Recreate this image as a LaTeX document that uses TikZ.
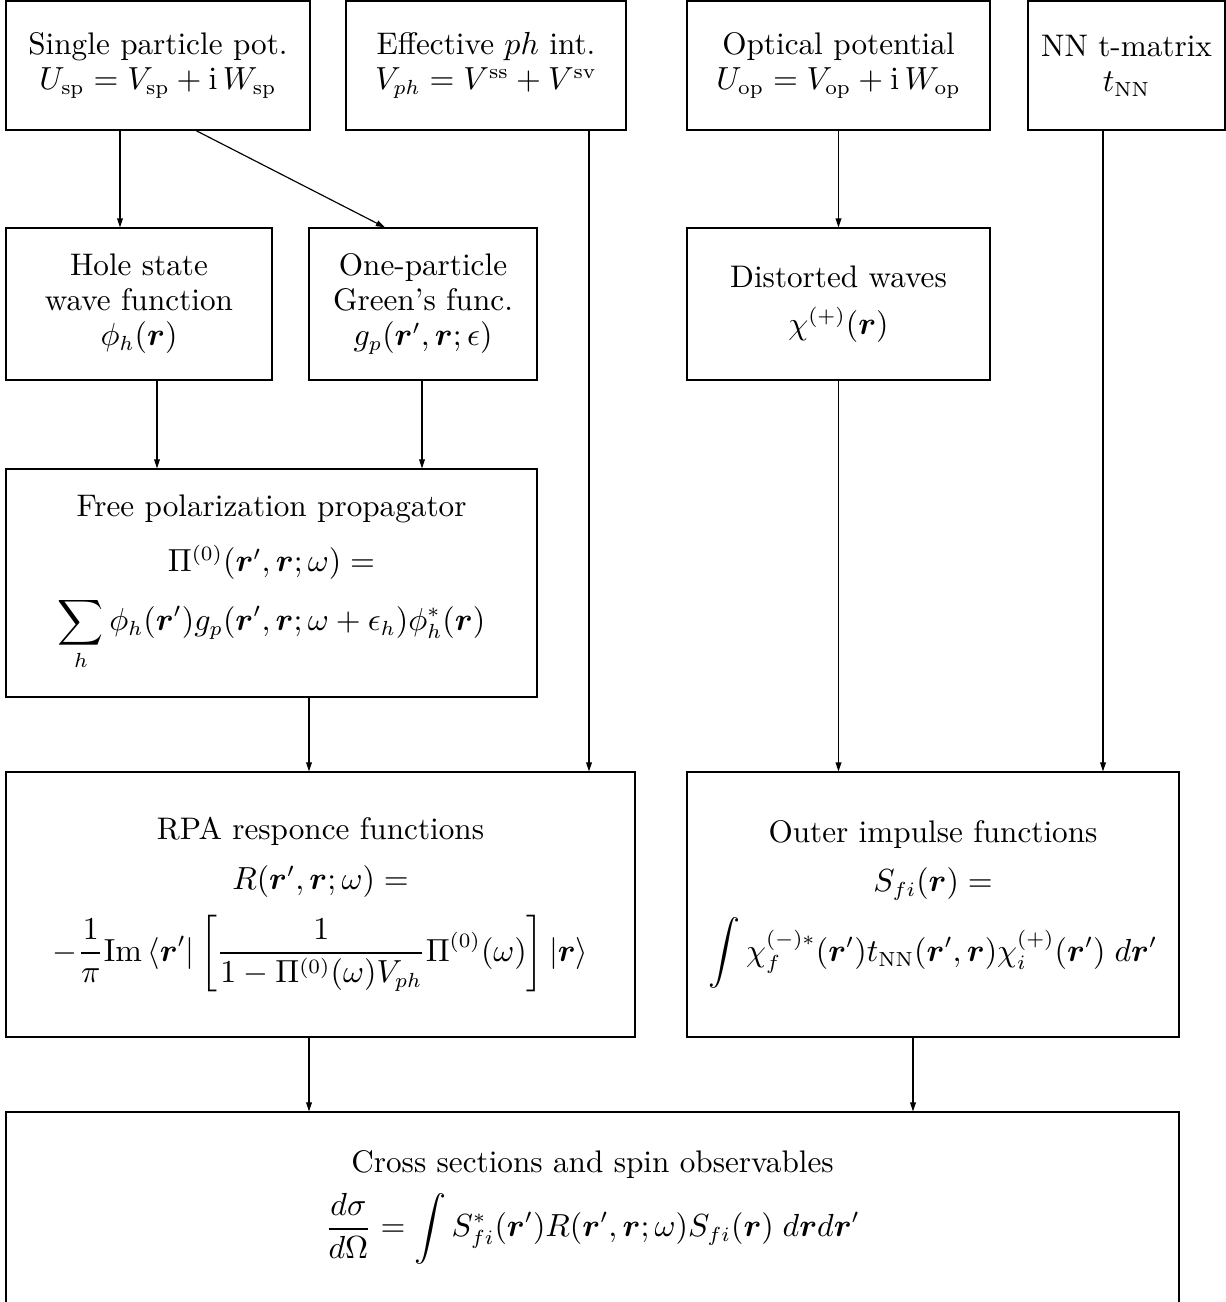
\documentclass[tikz,border=0pt]{standalone}
\usepackage{amsmath,bm}
\usetikzlibrary{arrows.meta}
\newcommand{\pxl}{0.01205cm}
\tikzset{
  box/.style 2 args={draw, line width=0.4pt, align=center, inner sep=0pt,
    font=\fontsize{10.7}{12}\selectfont,
    minimum width=#1*\pxl, minimum height=#2*\pxl},
  arr/.style={line width=0.4pt, -{Triangle[length=1.1mm,width=0.7mm]}}
}

\begin{document}
\begin{tikzpicture}[x=\pxl, y=-\pxl]
    \useasboundingbox (0,0) rectangle (1226,1302);
    \node[box={304}{129}] (sp) at (158,65.5) {Single particle pot.\\ $U_{\mathrm{sp}} = V_{\mathrm{sp}} + \mathrm{i}\,W_{\mathrm{sp}}$};
    \node[box={280}{129}] (eff) at (486,65.5) {Effective $ph$ int.\\ $V_{ph} = V^{\mathrm{ss}} + V^{\mathrm{sv}}$};
    \node[box={303}{129}] (op) at (838.5,65.5) {Optical potential\\ $U_{\mathrm{op}} = V_{\mathrm{op}} + \mathrm{i}\,W_{\mathrm{op}}$};
    \node[box={197}{129}] (nn) at (1126.5,65.5) {NN t-matrix\\ $t_{\mathrm{NN}}$};
    \node[box={266}{152}] (hole) at (139,304) {Hole state\\ wave function\\ $\phi_h(\bm{r})$};
    \node[box={228}{152}] (green) at (423,304) {One-particle\\ Green's func.\\ $g_p(\bm{r}',\bm{r};\epsilon)$};
    \node[box={303}{152}] (dist) at (838.5,304) {Distorted waves\\[4pt] $\chi^{(+)}(\bm{r})$};
    \node[box={531}{228}] (free) at (271.5,583) {Free polarization propagator\\[7pt] $\Pi^{(0)}(\bm{r}',\bm{r};\omega) =$\\[5pt] $\displaystyle\sum_h \phi_h(\bm{r}')g_p(\bm{r}',\bm{r};\omega+\epsilon_h)\phi_h^*(\bm{r})$};
    \node[box={629}{265}] (rpa) at (320.5,904.5) {RPA responce functions\\[5pt] $R(\bm{r}',\bm{r};\omega) =$\\[5pt] $\displaystyle -\frac{1}{\pi}\mathrm{Im}\,\langle\bm{r}'|\left[\frac{1}{1-\Pi^{(0)}(\omega)V_{ph}}\Pi^{(0)}(\omega)\right]|\bm{r}\rangle$};
    \node[box={492}{265}] (outer) at (933,904.5) {Outer impulse functions\\[5pt] $S_{fi}(\bm{r}) =$\\[5pt] $\displaystyle\int\chi_f^{(-)*}(\bm{r}')t_{\mathrm{NN}}(\bm{r}',\bm{r})\chi_i^{(+)}(\bm{r}')\;d\bm{r}'$};
    \node[box={1173}{191}] (cross) at (592.5,1207.5) {Cross sections and spin observables\\[4pt] $\displaystyle\frac{d\sigma}{d\Omega} = \int S^*_{fi}(\bm{r}')R(\bm{r}',\bm{r};\omega)S_{fi}(\bm{r})\;d\bm{r}d\bm{r}'$};
    \draw[arr] (sp.south -| 120,0) -- (hole.north -| 120,0);
    \draw[arr] (sp.south -| 196,0) -- (green.north -| 385,0);
    \draw[arr] (hole.south -| 157,0) -- (free.north -| 157,0);
    \draw[arr] (green.south -| 422,0) -- (free.north -| 422,0);
    \draw[arr] (eff.south -| 589,0) -- (rpa.north -| 589,0);
    \draw[arr] (free.south -| 309,0) -- (rpa.north -| 309,0);
    \draw[arr] (op.south) -- (dist.north);
    \draw[arr] (dist.south) -- (outer.north -| dist.south);
    \draw[arr] (nn.south -| 1103,0) -- (outer.north -| 1103,0);
    \draw[arr] (rpa.south -| 309,0) -- (cross.north -| 309,0);
    \draw[arr] (outer.south -| 913,0) -- (cross.north -| 913,0);
\end{tikzpicture}
\end{document}
